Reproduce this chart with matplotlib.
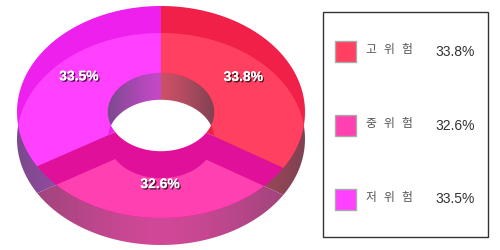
import numpy as np
import matplotlib
matplotlib.use("Agg")
import matplotlib.pyplot as plt
from matplotlib.patches import Polygon, Rectangle
from matplotlib.colors import to_rgb
import matplotlib.patheffects as pe

# dane wykresu
categories = ["고 위 험", "중 위 험", "저 위 험"]
values = [33.8, 32.6, 33.5]
labels = ["33.8%", "32.6%", "33.5%"]

light = ["#ff4060", "#ff40b0", "#ff40ff"]
dark = ["#f02048", "#e0109a", "#ee20ee"]
wall_hi = ["#cc5068", "#d24898", "#c448c8"]
wall_lo = ["#7e4252", "#964476", "#7a4a8c"]

# geometria pączka (w pikselach)
cx, cy, a, b, d, r_in = 161, 112, 144, 106, 27, 0.37


def wedge(t0, t1, yc):
    t = np.linspace(t0, t1, 80)
    outer = np.c_[cx + a * np.sin(t), yc - b * np.cos(t)]
    inner = np.c_[cx + a * r_in * np.sin(t[::-1]), yc - b * r_in * np.cos(t[::-1])]
    return np.vstack([outer, inner])


def gradient(c_hi, c_lo):
    # jaśniej w środku, ciemniej na brzegach
    xs = np.arange(0, 330) + 0.5
    ys = np.arange(0, 250) + 0.5
    X, Y = np.meshgrid(xs, ys)
    in_hole = ((X - cx) / (a * r_in)) ** 2 + ((Y - cy) / (b * r_in)) ** 2 < 1.05
    s = np.where(in_hole, np.abs(X - cx) / (a * r_in), np.abs(X - cx) / a)
    s = np.clip(s, 0, 1) ** 1.3
    hi, lo = np.array(to_rgb(c_hi)), np.array(to_rgb(c_lo))
    return hi * (1 - s[..., None]) + lo * s[..., None]


fig = plt.figure(figsize=(5, 2.5), dpi=100)
ax = fig.add_axes([0, 0, 1, 1])
ax.axis("off")

frac = np.array(values) / sum(values)
edges = np.concatenate([[0], np.cumsum(frac)]) * 2 * np.pi

# dolna warstwa (ściany z gradientem)
for i in range(3):
    p = Polygon(wedge(edges[i], edges[i + 1], cy + d), closed=True,
                facecolor="none", edgecolor="none")
    ax.add_patch(p)
    im = ax.imshow(gradient(wall_hi[i], wall_lo[i]), extent=(0, 330, 250, 0),
                   interpolation="bilinear", aspect="auto")
    im.set_clip_path(p)
ax.set_xlim(0, 500)
ax.set_ylim(250, 0)

# górna warstwa
tops = []
for i in range(3):
    p = Polygon(wedge(edges[i], edges[i + 1], cy), closed=True,
                facecolor=dark[i], edgecolor="none")
    ax.add_patch(p)
    tops.append(p)
# część wspólna - jaśniejszy kolor
for i in range(3):
    q = Polygon(wedge(edges[i], edges[i + 1], cy + d), closed=True,
                facecolor=light[i], edgecolor="none")
    ax.add_patch(q)
    q.set_clip_path(tops[i])

# etykiety procentowe
shadow = [pe.withSimplePatchShadow(offset=(1, -1), shadow_rgbFace="black", alpha=0.7), pe.Normal()]
for i in range(3):
    t = (edges[i] + edges[i + 1]) / 2
    x = cx + a * 0.655 * np.sin(t)
    y = cy - b * 0.68 * np.cos(t)
    ax.text(x, y, labels[i], color="white", fontsize=10, fontweight="bold",
            family="Liberation Sans", ha="center", va="center", path_effects=shadow)

# legenda
ax.add_patch(Rectangle((323, 12), 165, 225, facecolor="white", edgecolor="#333333", lw=1))
ys = [51.5, 125.5, 199]
for i in range(3):
    ax.add_patch(Rectangle((334.5, ys[i] - 10.5), 21, 21, facecolor=light[i],
                           edgecolor="#aaaaaa", lw=1))
    for k, ch in enumerate(categories[i].split(" ")):
        ax.text(370.5 + k * 18, ys[i] - 1.5, ch, color="#555555", fontsize=8.5,
                family="Noto Sans CJK KR", ha="center", va="center")
    ax.text(475, ys[i], labels[i], color="#333333", fontsize=10,
            family="Liberation Sans", ha="right", va="center")

fig.savefig("out.png", dpi=100)
